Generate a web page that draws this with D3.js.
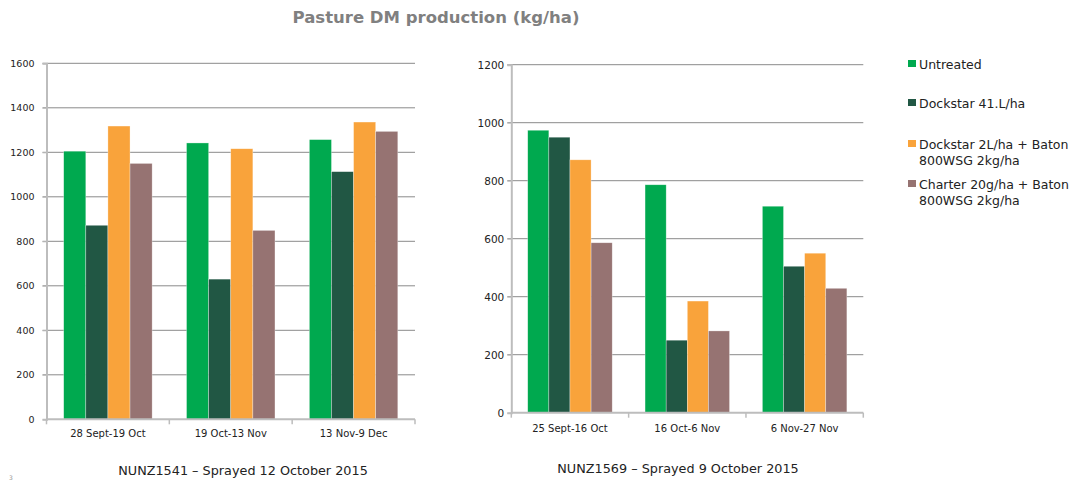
<!DOCTYPE html>
<html>
<head>
<meta charset="utf-8">
<script src="https://cdn.jsdelivr.net/npm/d3@7"></script>
<style>
  body { margin: 0; background: #fff; }
  text { font-family: "DejaVu Sans", sans-serif; }
</style>
</head>
<body>
<div id="svg-wrap"></div>
<script>
var width = 1076;
var height = 483;

var series = ["Untreated", "Dockstar 41.L/ha", "Dockstar 2L/ha + Baton 800WSG 2kg/ha", "Charter 20g/ha + Baton 800WSG 2kg/ha"];
var legendLines = [["Untreated"], ["Dockstar 41.L/ha"], ["Dockstar 2L/ha + Baton", "800WSG 2kg/ha"], ["Charter 20g/ha + Baton", "800WSG 2kg/ha"]];
var colors = ["#00a94f", "#215744", "#f9a33b", "#967372"];

// NUNZ1541
var leftCats = ["28 Sept-19 Oct", "19 Oct-13 Nov", "13 Nov-9 Dec"];
var leftUntreated = [1205, 1242, 1257];
var leftDock41 = [872, 630, 1113];
var leftDockBaton = [1318, 1216, 1336];
var leftCharter = [1150, 849, 1294];
var leftTicks = [0, 200, 400, 600, 800, 1000, 1200, 1400, 1600];

// NUNZ1569
var rightCats = ["25 Sept-16 Oct", "16 Oct-6 Nov", "6 Nov-27 Nov"];
var rightUntreated = [974, 786, 712];
var rightDock41 = [950, 250, 505];
var rightDockBaton = [872, 385, 550];
var rightCharter = [586, 282, 429];
var rightTicks = [0, 200, 400, 600, 800, 1000, 1200];

var svg = d3.select('#svg-wrap').append('svg')
  .attr('width', width)
  .attr('height', height);

svg.append('text')
  .attr('x', 436)
  .attr('y', 23)
  .attr('text-anchor', 'middle')
  .attr('fill', '#808080')
  .attr('font-weight', 'bold')
  .attr('font-size', 16.5)
  .text('Pasture DM production (kg/ha)');

function chart(opts) {
  var cats = opts.cats;
  var values = [opts.a, opts.b, opts.c, opts.d];

  var x0 = d3.scaleBand().domain(cats)
    .range([opts.left, opts.right])
    .paddingInner(0.28).paddingOuter(0.14);
  var x1 = d3.scaleBand().domain(d3.range(4)).range([0, x0.bandwidth()]);
  var y = d3.scaleLinear().domain([0, opts.max]).range([opts.bottom, opts.top]);

  var g = svg.append('g');

  // gridlines
  g.append('g').selectAll('line')
    .data(opts.ticks.filter(d => d > 0))
    .join('line')
      .attr('x1', opts.left - 4)
      .attr('x2', opts.right)
      .attr('y1', d => y(d))
      .attr('y2', d => y(d))
      .attr('stroke', '#8a8a8a')
      .attr('stroke-width', 1);

  // bars
  var group = g.append('g').selectAll('g')
    .data(cats)
    .join('g')
      .attr('transform', d => `translate(${x0(d)},0)`);
  group.selectAll('rect')
    .data((d, i) => values.map((s, k) => ({k: k, v: s[i]})))
    .join('rect')
      .attr('x', d => x1(d.k))
      .attr('width', x1.bandwidth())
      .attr('y', d => y(d.v))
      .attr('height', d => opts.bottom - y(d.v))
      .attr('fill', d => colors[d.k])
      .attr('stroke', '#ffffff')
      .attr('stroke-opacity', 0.5)
      .attr('stroke-width', 0.6);

  // y axis
  var yAxis = g.append('g')
    .attr('transform', `translate(${opts.left},0)`)
    .call(d3.axisLeft(y).tickValues(opts.ticks).tickFormat(d3.format('d'))
      .tickSize(4).tickPadding(opts.tickPad));
  yAxis.select('.domain').attr('stroke', '#bdbdbd').attr('stroke-width', 2);
  yAxis.selectAll('.tick line').attr('stroke', '#bdbdbd');
  yAxis.selectAll('.tick text')
    .attr('font-size', opts.tickFont)
    .attr('fill', '#222')
    .style('font-family', '"DejaVu Sans", sans-serif');

  // x axis
  var xAxis = g.append('g')
    .attr('transform', `translate(0,${opts.bottom})`);
  xAxis.append('line')
    .attr('x1', opts.left).attr('x2', opts.right)
    .attr('stroke', '#bdbdbd').attr('stroke-width', 2);
  var bounds = [opts.left].concat(cats.map(c => x0(c) - x0.step() * 0.14 + x0.step()));
  xAxis.selectAll('.xt')
    .data(bounds)
    .join('line')
      .attr('class', 'xt')
      .attr('x1', d => d).attr('x2', d => d)
      .attr('y1', 0).attr('y2', 5)
      .attr('stroke', '#bdbdbd').attr('stroke-width', 1.5);
  xAxis.selectAll('.xl')
    .data(cats)
    .join('text')
      .attr('class', 'xl')
      .attr('x', d => x0(d) + x0.bandwidth() / 2)
      .attr('y', opts.catY)
      .attr('text-anchor', 'middle')
      .attr('font-size', opts.catFont)
      .attr('fill', '#222')
      .text(d => d);

  svg.append('text')
    .attr('x', opts.subX)
    .attr('y', opts.subY)
    .attr('text-anchor', 'middle')
    .attr('font-size', 12.8)
    .attr('fill', '#222')
    .text(opts.sub);
}

chart({
  cats: leftCats, a: leftUntreated, b: leftDock41, c: leftDockBaton, d: leftCharter,
  ticks: leftTicks, max: 1600,
  left: 46.5, right: 415, top: 63.3, bottom: 419.3,
  tickPad: 8, tickFont: 9.5, catY: 18, catFont: 10,
  sub: 'NUNZ1541 – Sprayed 12 October 2015', subX: 243, subY: 475
});

chart({
  cats: rightCats, a: rightUntreated, b: rightDock41, c: rightDockBaton, d: rightCharter,
  ticks: rightTicks, max: 1200,
  left: 511.3, right: 863.3, top: 64.7, bottom: 412.7,
  tickPad: 3, tickFont: 10.5, catY: 19, catFont: 10,
  sub: 'NUNZ1569 – Sprayed 9 October 2015', subX: 678, subY: 473
});

// legend
var legend = svg.append('g').selectAll('g')
  .data(legendLines)
  .join('g')
    .attr('transform', (d, i) => `translate(908,${[64, 103, 144, 184][i]})`);
legend.append('rect')
  .attr('x', 0).attr('y', -4)
  .attr('width', 8).attr('height', 7)
  .attr('fill', (d, i) => colors[i]);
legend.selectAll('text')
  .data(d => d)
  .join('text')
    .attr('x', 11)
    .attr('y', (d, j) => j * 16 + 4.5)
    .attr('font-size', 12.5)
    .attr('fill', '#222')
    .text(d => d);

svg.append('text')
  .attr('x', 9).attr('y', 480)
  .attr('font-size', 6)
  .attr('fill', '#999')
  .text('3');
</script>
</body>
</html>
